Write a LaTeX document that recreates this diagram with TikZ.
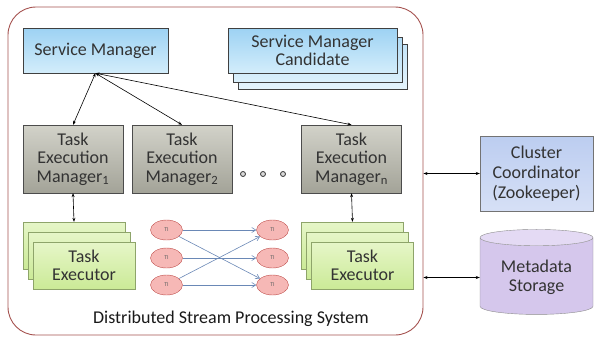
\documentclass[tikz,border=0pt]{standalone}
\usepackage{fontspec}
\setmainfont{Carlito}
\usetikzlibrary{shapes.geometric,arrows.meta}

\definecolor{framered}{HTML}{A5524F}
\definecolor{smtop}{HTML}{9DD2F3}
\definecolor{smbot}{HTML}{D3EDFB}
\definecolor{temtop}{HTML}{D2D2C9}
\definecolor{tembot}{HTML}{A3A398}
\definecolor{tetop}{HTML}{E6F6C8}
\definecolor{tebot}{HTML}{CBEA97}
\definecolor{tiline}{HTML}{C0504D}
\definecolor{tifill}{HTML}{F6B8B6}
\definecolor{flowblue}{HTML}{6A88B6}
\definecolor{cctop}{HTML}{BCCDF0}
\definecolor{ccbot}{HTML}{D6E0F6}
\definecolor{dbbody}{HTML}{D5C7EC}
\definecolor{dbend}{HTML}{E4DAF4}

\tikzset{
  boxfont/.style={font=\fontsize{18}{18.5}\selectfont, text=black!80},
  smbox/.style={boxfont, draw=black!75, top color=smtop, bottom color=smbot,
    minimum height=45, align=center},
  tembox/.style={boxfont, draw=black!70, top color=temtop, bottom color=tembot,
    minimum width=100, minimum height=68, align=center, inner sep=1pt},
  tebox/.style={boxfont, draw=tebot!70!black, top color=tetop, bottom color=tebot,
    minimum width=102, minimum height=47, align=center},
  tinode/.style={ellipse, draw=tiline, fill=tifill, minimum width=32,
    minimum height=20, inner sep=0pt, font=\fontsize{6}{6}\selectfont, text=black!60},
  dot/.style={circle, draw=black!80, fill=black!15, line width=0.8pt,
    minimum size=5, inner sep=0pt},
  link/.style={{Stealth[length=4pt,width=3pt]}-{Stealth[length=4pt,width=3pt]}, line width=0.6pt},
  flow/.style={-{Straight Barb[length=4pt,width=5pt]}, draw=flowblue, line width=0.6pt},
}

\begin{document}
\begin{tikzpicture}[x=1pt,y=-1pt]
\useasboundingbox (0,0) rectangle (595,338);

% System frame
\node[draw=framered, line width=0.9pt, rounded corners=28, minimum width=415,
  minimum height=328] (sys) at (215.5,171) {};
\node[boxfont, text=black!90] (title) at (231,319) {Distributed Stream Processing System};

% Service managers
\node[smbox, minimum width=145] (sm) at (95.5,50.5) {Service Manager};
\node[smbox, minimum width=169, top color=smtop!60, bottom color=smbot!60] (smc3) at (322.5,66.5) {};
\node[smbox, minimum width=169, top color=smtop!80, bottom color=smbot!80] (smc2) at (317.5,59.5) {};
\node[smbox, minimum width=169] (smc) at (312.5,50.5) {Service Manager\\Candidate};

% Task execution managers
\node[tembox] (tem1) at (73,159) {Task\\Execution\\Manager\textsubscript{1}};
\node[tembox] (tem2) at (182,159) {Task\\Execution\\Manager\textsubscript{2}};
\node[tembox] (temn) at (351.5,159) {Task\\Execution\\Manager\textsubscript{n}};
\node[dot] (d1) at (243,174) {};
\node[dot] (d2) at (263,174) {};
\node[dot] (d3) at (283,174) {};

\draw[link] (sm.south) -- (tem1.north);
\draw[link] (sm.south) -- (tem2.north);
\draw[link] (sm.south) -- (temn.north);

% Task executors (stacked copies)
\node[tebox] (te1c) at (74,245.5) {};
\node[tebox] (te1b) at (79,255.5) {};
\node[tebox] (te1) at (84,265.5) {Task\\Executor};
\node[tebox] (tenc) at (352.5,245.5) {};
\node[tebox] (tenb) at (357.5,255.5) {};
\node[tebox] (ten) at (362.5,265.5) {Task\\Executor};

\draw[link] (tem1.south) -- (te1c.north);
\draw[link] (temn.south) -- (tenc.north);

% Task instances
\node[tinode] (l1) at (166.5,230) {TI};
\node[tinode] (l2) at (166.5,258) {TI};
\node[tinode] (l3) at (166.5,285) {TI};
\node[tinode] (r1) at (272.5,230) {TI};
\node[tinode] (r2) at (272.5,258) {TI};
\node[tinode] (r3) at (272.5,285) {TI};

\draw[flow] (l1) -- (r1);
\draw[flow] (l1) -- (r3);
\draw[flow] (l2) -- (r2);
\draw[flow] (l3) -- (r1);
\draw[flow] (l3) -- (r3);

% External services
\node[boxfont, draw=black!55, top color=cctop, bottom color=ccbot, minimum width=113,
  minimum height=75, align=center, font=\fontsize{18}{20}\selectfont] (cc) at (536.5,173.5)
  {Cluster\\Coordinator\\(Zookeeper)};
\node[boxfont, cylinder, shape border rotate=90, aspect=0.21, draw=black!45,
  cylinder uses custom fill, cylinder body fill=dbbody, cylinder end fill=dbend,
  minimum width=113, minimum height=85, align=center] (meta) at (536.5,277.5)
  {Metadata\\Storage};

\draw[link] (sys.east |- cc.west) -- (cc.west);
\draw[link] (sys.east |- meta.west) -- (meta.west);
\end{tikzpicture}
\end{document}
